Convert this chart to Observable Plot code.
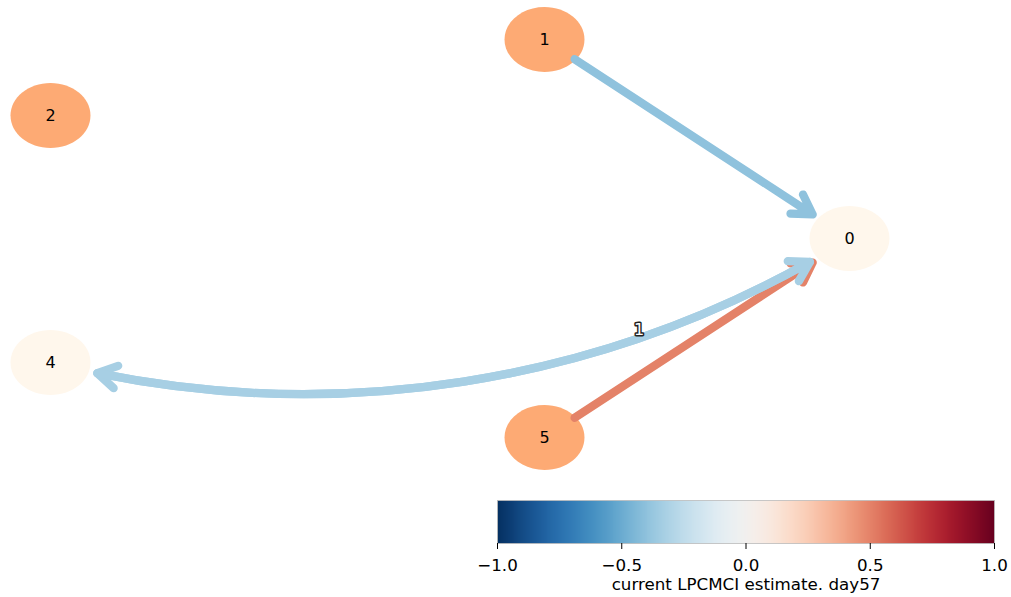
<!DOCTYPE html>
<html><head><meta charset="utf-8">
<script src="https://cdn.jsdelivr.net/npm/d3@7"></script>
<script src="https://cdn.jsdelivr.net/npm/@observablehq/plot@0.6"></script>
<style>
body{margin:0;background:#fff;}
#chart{width:1011px;}
#chart svg{display:block;}
</style>
</head><body><div id="chart"></div>
<script>
// ---- data ----
const nodeIds = [0, 1, 2, 4, 5];
const nodeX = [849, 544, 50, 50, 544];
const nodeY = [238, 39, 115, 362, 437];
const nodeValue = [0.0, 0.42, 0.42, 0.0, 0.42];   // auto-dependency (node colour)

const linkSource = [5, 1, 4];
const linkTarget = [0, 0, 0];
const linkValue = [0.50, -0.40, -0.33];          // cross-dependency (edge colour)
const linkType = ["-->", "-->", "<->"];
const linkLag = ["", "", "1"];

const cbarTicks = [-1, -0.5, 0, 0.5, 1];
const cbarLabel = "current LPCMCI estimate. day57";

// ---- tables ----
const nodes = nodeIds.map((id, i) => ({id, x: nodeX[i], y: nodeY[i], value: nodeValue[i]}));
const pos = new Map(nodes.map(d => [d.id, d]));
const links = linkSource.map((s, i) => ({
  source: pos.get(s), target: pos.get(linkTarget[i]), value: linkValue[i], type: linkType[i], lag: linkLag[i]
}));
const straight = links.filter(d => d.type === "-->");
const curved = links.filter(d => d.type === "<->");

const BEND = 23;
// point on the circular arc drawn by Plot.arrow (bend, clockwise from A to B) at chord fraction f
function arcPoint(A, B, bendDeg, f) {
  const dx = B.x - A.x, dy = B.y - A.y, L = Math.hypot(dx, dy);
  const ux = dx / L, uy = dy / L, nx = uy, ny = -ux;
  const R = L / 2 / Math.sin(bendDeg * Math.PI / 180);
  const t = f * L - L / 2;
  const s = Math.sqrt(R * R - t * t) - Math.sqrt(R * R - L * L / 4);
  return {x: A.x + ux * f * L + nx * s, y: A.y + uy * f * L + ny * s};
}
const lagLabels = curved.map(d => ({...arcPoint(d.target, d.source, BEND, 0.276), lag: d.lag}));

const colorScale = {type: "linear", domain: [-1, 1], interpolate: t => d3.interpolateRdBu(1 - t)};

const RX = 40, RY = 32.5, K = 0.5523;
const ellipse = {draw(ctx) {
  ctx.moveTo(RX, 0);
  ctx.bezierCurveTo(RX, K * RY, K * RX, RY, 0, RY);
  ctx.bezierCurveTo(-K * RX, RY, -RX, K * RY, -RX, 0);
  ctx.bezierCurveTo(-RX, -K * RY, -K * RX, -RY, 0, -RY);
  ctx.bezierCurveTo(K * RX, -RY, RX, -K * RY, RX, 0);
  ctx.closePath();
}};

const arrowStyle = {strokeWidth: 8.3, headLength: 4, headAngle: 62, strokeLinecap: "round", strokeLinejoin: "round"};

const graph = Plot.plot({
  width: 1011, height: 490,
  margin: 0,
  x: {domain: [0, 1011], range: [0, 1011], axis: null},
  y: {domain: [0, 490], range: [0, 490], axis: null},
  color: colorScale,
  style: {fontFamily: "DejaVu Sans", fontSize: "16px", background: "white", color: "black"},
  marks: [
    Plot.dot(nodes, {x: "x", y: "y", r: 40, symbol: ellipse, fill: {value: d => d3.interpolateOrRd(d.value), scale: null}, stroke: "none"}),
    Plot.arrow(straight, {x1: d => d.source.x, y1: d => d.source.y, x2: d => d.target.x, y2: d => d.target.y,
      stroke: "value", insetStart: 36, insetEnd: 44, ...arrowStyle}),
    Plot.arrow(curved, {x1: d => d.target.x, y1: d => d.target.y, x2: d => d.source.x, y2: d => d.source.y,
      stroke: "value", bend: BEND, insetStart: 46, insetEnd: 48, ...arrowStyle}),
    Plot.arrow(curved, {x1: d => d.source.x, y1: d => d.source.y, x2: d => d.target.x, y2: d => d.target.y,
      stroke: "value", bend: -BEND, insetStart: 48, insetEnd: 46, ...arrowStyle}),
    Plot.text(nodes, {x: "x", y: "y", text: d => String(d.id), fill: "black", fontSize: 16}),
    Plot.text(lagLabels, {x: "x", y: "y", text: "lag", dy: -8, fill: "white", stroke: "#222", strokeWidth: 3, fontSize: 16})
  ]
});

const cbar = Plot.plot({
  width: 1011, height: 107,
  marginLeft: 497, marginRight: 17, marginTop: 10, marginBottom: 54,
  x: {domain: [-1, 1]},
  y: {domain: [0, 1], axis: null},
  color: colorScale,
  style: {fontFamily: "DejaVu Sans", fontSize: "16.7px", background: "white", color: "black"},
  marks: [
    Plot.raster({x1: -1, x2: 1, y1: 0, y2: 1, width: 512, height: 1, fill: (x, y) => x, imageRendering: "auto"}),
    Plot.frame({stroke: "#bbb", strokeWidth: 0.8}),
    Plot.axisX({ticks: cbarTicks, tickFormat: d3.format(".1f"), tickSize: 6, tickPadding: 10,
      label: cbarLabel, labelAnchor: "center", labelArrow: "none", labelOffset: 46})
  ]
});

const el = document.getElementById("chart");
el.append(graph, cbar);
</script>
</body></html>
